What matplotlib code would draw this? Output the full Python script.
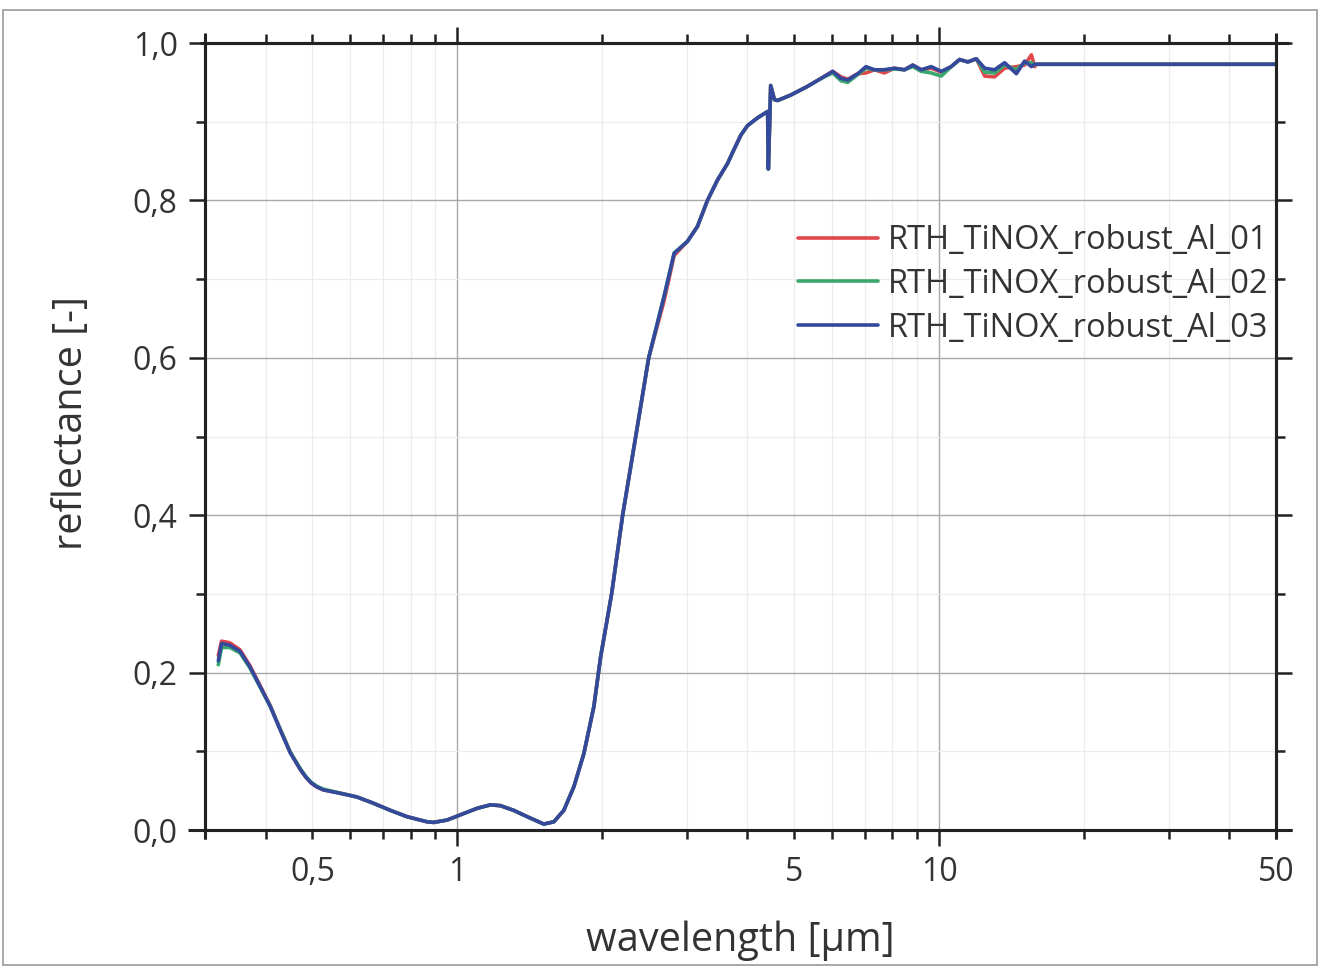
import matplotlib
matplotlib.use('Agg')
import matplotlib.pyplot as plt
from matplotlib.ticker import LogLocator, FuncFormatter, MultipleLocator
from matplotlib.patches import Rectangle

plt.rcParams['font.family'] = ['Open Sans', 'DejaVu Sans']

# wavelength [um] and reflectance
wavelength = [0.319, 0.324, 0.337, 0.354, 0.371, 0.390, 0.409, 0.429, 0.450, 0.472,
              0.485, 0.497, 0.510, 0.527, 0.571, 0.619, 0.670, 0.726, 0.786, 0.865,
              0.893, 0.952, 1.031, 1.099, 1.171, 1.228, 1.309, 1.396, 1.511, 1.586,
              1.663, 1.745, 1.830, 1.920, 1.983, 2.090, 2.203, 2.345, 2.495, 2.685,
              2.818, 3.003, 3.150, 3.304, 3.467, 3.637, 3.753, 3.876, 4.000, 4.200,
              4.405, 4.420, 4.470, 4.550, 4.621, 4.923, 5.333, 5.684, 6.012, 6.256,
              6.460, 6.776, 7.050, 7.336, 7.695, 8.073, 8.470, 8.816, 9.176, 9.625,
              10.10, 10.59, 11.02, 11.47, 11.94, 12.43, 13.03, 13.67, 14.46, 15.04,
              15.54, 15.78, 15.90, 50.0]

refl_01 = [0.222, 0.240, 0.238, 0.229, 0.209, 0.183, 0.158, 0.128, 0.099, 0.077,
           0.067, 0.060, 0.055, 0.051, 0.047, 0.042, 0.034, 0.025, 0.017, 0.0105,
           0.0097, 0.0127, 0.021, 0.0276, 0.032, 0.031, 0.025, 0.017, 0.0076, 0.0105,
           0.025, 0.055, 0.097, 0.157, 0.220, 0.300, 0.400, 0.500, 0.600, 0.672,
           0.730, 0.748, 0.767, 0.800, 0.826, 0.847, 0.865, 0.883, 0.895, 0.905,
           0.913, 0.840, 0.946, 0.928, 0.927, 0.934, 0.945, 0.955, 0.964, 0.957,
           0.954, 0.961, 0.962, 0.966, 0.962, 0.968, 0.966, 0.972, 0.966, 0.968,
           0.963, 0.970, 0.979, 0.976, 0.980, 0.958, 0.957, 0.968, 0.970, 0.972,
           0.985, 0.970, 0.973, 0.973]

refl_02 = [0.210, 0.232, 0.232, 0.225, 0.206, 0.181, 0.157, 0.128, 0.099, 0.078,
           0.068, 0.061, 0.056, 0.052, 0.047, 0.042, 0.034, 0.025, 0.017, 0.0105,
           0.0097, 0.0127, 0.021, 0.0276, 0.032, 0.031, 0.025, 0.017, 0.0076, 0.0105,
           0.025, 0.055, 0.097, 0.157, 0.220, 0.300, 0.400, 0.500, 0.600, 0.678,
           0.733, 0.748, 0.767, 0.800, 0.826, 0.847, 0.865, 0.883, 0.895, 0.905,
           0.913, 0.840, 0.946, 0.928, 0.927, 0.934, 0.945, 0.955, 0.962, 0.952,
           0.950, 0.960, 0.968, 0.966, 0.966, 0.967, 0.966, 0.970, 0.964, 0.962,
           0.958, 0.970, 0.979, 0.976, 0.980, 0.963, 0.962, 0.972, 0.966, 0.975,
           0.975, 0.972, 0.973, 0.973]

refl_03 = [0.215, 0.237, 0.235, 0.227, 0.2075, 0.182, 0.157, 0.127, 0.098, 0.077,
           0.067, 0.060, 0.055, 0.051, 0.0466, 0.042, 0.034, 0.025, 0.017, 0.0105,
           0.0097, 0.0127, 0.021, 0.0276, 0.032, 0.031, 0.025, 0.017, 0.0076, 0.0105,
           0.025, 0.055, 0.097, 0.157, 0.220, 0.300, 0.400, 0.500, 0.600, 0.678,
           0.733, 0.748, 0.767, 0.800, 0.826, 0.847, 0.865, 0.883, 0.895, 0.905,
           0.913, 0.840, 0.946, 0.928, 0.927, 0.934, 0.945, 0.955, 0.964, 0.955,
           0.953, 0.961, 0.970, 0.966, 0.966, 0.968, 0.966, 0.972, 0.966, 0.970,
           0.964, 0.970, 0.979, 0.976, 0.980, 0.968, 0.966, 0.975, 0.961, 0.977,
           0.970, 0.973, 0.973, 0.973]

labels = ['RTH_TiNOX_robust_Al_01', 'RTH_TiNOX_robust_Al_02', 'RTH_TiNOX_robust_Al_03']
colors = ['#e0474c', '#3aa76d', '#34489c']
labelled_minor = [0.5, 5, 50]

fig = plt.figure(figsize=(13.34, 9.69), dpi=100)
ax = fig.add_axes([0.154, 0.1434, 0.8025, 0.8122])

for y, lab, c in zip([refl_01, refl_02, refl_03], labels, colors):
    ax.plot(wavelength, y, color=c, lw=2.6, label=lab,
            solid_joinstyle='round', solid_capstyle='round')

ax.set_xscale('log')
ax.set_xlim(0.3, 50)
ax.set_ylim(0, 1.0)

ax.xaxis.set_major_locator(LogLocator(base=10))
ax.xaxis.set_minor_locator(LogLocator(base=10, subs=range(2, 10), numticks=20))
dec = lambda v, p: ('%g' % v).replace('.', ',')
ax.xaxis.set_major_formatter(FuncFormatter(dec))
ax.xaxis.set_minor_formatter(FuncFormatter(
    lambda v, p: dec(v, p) if any(abs(v - m) < 1e-6 * m for m in labelled_minor) else ''))
ax.yaxis.set_major_locator(MultipleLocator(0.2))
ax.yaxis.set_minor_locator(MultipleLocator(0.1))
ax.yaxis.set_major_formatter(FuncFormatter(lambda v, p: ('%.1f' % v).replace('.', ',')))

ax.tick_params(which='both', direction='out', top=True, right=True,
               labeltop=False, labelright=False, colors='#222222', width=1.8,
               labelsize=23, labelcolor='#333333')
ax.tick_params(which='major', length=11.5)
ax.tick_params(which='minor', length=6.5)
ax.tick_params(axis='x', which='major', pad=7)
ax.tick_params(axis='x', which='minor', pad=12, labelsize=23)
ax.tick_params(axis='y', which='major', pad=8.5)

ax.grid(which='major', color='#a8a8a8', lw=1.0)
ax.grid(which='minor', color='#ececec', lw=0.9)
ax.set_axisbelow(True)

for s in ax.spines.values():
    s.set_linewidth(2.2)
    s.set_color('#222222')
# axis lines run a little past the corners, as in the original
ext = dict(transform=ax.transAxes, clip_on=False, color='#222222', lw=2.2, solid_capstyle='butt')
ax.plot([-0.016, 1.015], [0, 0], **ext)
ax.plot([-0.005, 1.012], [1, 1], **ext)
ax.plot([0, 0], [-0.011, 1.013], **ext)
ax.plot([1, 1], [-0.011, 1.013], **ext)

ax.set_xlabel('wavelength [µm]', fontsize=28.5, color='#333333')
ax.set_ylabel('reflectance [-]', fontsize=28.5, color='#333333')
ax.xaxis.set_label_coords(0.5, -0.115)
ax.yaxis.set_label_coords(-0.106, 0.517)

leg = ax.legend(loc='upper left', bbox_to_anchor=(0.5536, 0.770), frameon=False,
                fontsize=23.5, handlelength=2.45, handletextpad=0.3, labelspacing=0.33,
                borderaxespad=0, borderpad=0)
for t in leg.get_texts():
    t.set_color('#333333')
for h in leg.get_lines():
    h.set_linewidth(2.6)

# scanned page frame
fig.add_artist(Rectangle((0.002, 0.004), 0.985, 0.986, transform=fig.transFigure,
                         fill=False, edgecolor='#999999', lw=1.2))

fig.savefig('out.png', dpi=100)
